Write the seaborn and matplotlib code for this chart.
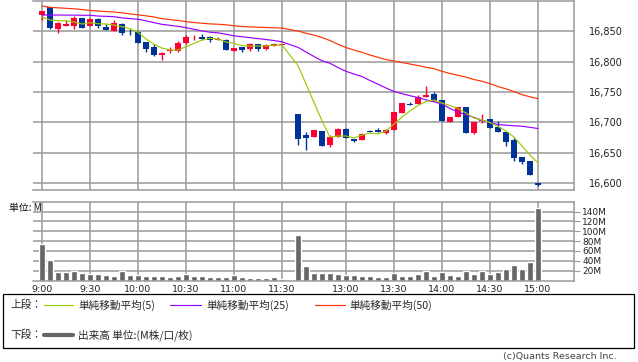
import matplotlib
matplotlib.use("Agg")
import matplotlib.pyplot as plt
import numpy as np
import pandas as pd
import seaborn as sns
from matplotlib.lines import Line2D
from matplotlib.patches import Rectangle

# ---------------- data ----------------
times = ["9:00", "9:05", "9:10", "9:15", "9:20", "9:25", "9:30", "9:35", "9:40", "9:45",
         "9:50", "9:55", "10:00", "10:05", "10:10", "10:15", "10:20", "10:25", "10:30", "10:35",
         "10:40", "10:45", "10:50", "10:55", "11:00", "11:05", "11:10", "11:15", "11:20", "11:25",
         "11:30",
         "12:30", "12:35", "12:40", "12:45", "12:50", "12:55", "13:00", "13:05", "13:10", "13:15",
         "13:20", "13:25", "13:30", "13:35", "13:40", "13:45", "13:50", "13:55", "14:00", "14:05",
         "14:10", "14:15", "14:20", "14:25", "14:30", "14:35", "14:40", "14:45", "14:50", "14:55",
         "15:00"]

opens = [16877, 16890, 16854, 16859, 16859, 16872, 16859, 16870, 16857, 16851,
         16862, 16851, 16849, 16832, 16824, 16811, 16818, 16818, 16831, 16840,
         16841, 16841, 16836, 16836, 16818, 16824, 16821, 16829, 16821, 16826,
         16828,
         16714, 16679, 16676, 16686, 16663, 16676, 16689, 16673, 16671, 16686,
         16687, 16682, 16687, 16715, 16731, 16730, 16742, 16747, 16737, 16700,
         16709, 16725, 16682, 16703, 16706, 16692, 16684, 16671, 16643, 16636,
         16600]
highs = [16884, 16890, 16865, 16869, 16875, 16872, 16872, 16872, 16862, 16869,
         16864, 16854, 16850, 16832, 16829, 16816, 16824, 16834, 16844, 16844,
         16846, 16842, 16840, 16837, 16823, 16824, 16831, 16829, 16829, 16831,
         16828,
         16714, 16684, 16687, 16686, 16679, 16691, 16690, 16673, 16682, 16687,
         16690, 16689, 16717, 16732, 16734, 16745, 16760, 16750, 16737, 16709,
         16725, 16725, 16701, 16714, 16706, 16702, 16684, 16674, 16643, 16636,
         16600]
lows = [16868, 16854, 16848, 16859, 16854, 16856, 16859, 16855, 16853, 16851,
        16844, 16844, 16830, 16816, 16809, 16803, 16814, 16816, 16829, 16836,
        16836, 16832, 16835, 16819, 16817, 16816, 16818, 16818, 16819, 16826,
        16828,
        16663, 16654, 16676, 16661, 16659, 16676, 16674, 16668, 16671, 16684,
        16684, 16681, 16687, 16715, 16729, 16730, 16742, 16735, 16702, 16700,
        16709, 16683, 16681, 16699, 16691, 16684, 16661, 16637, 16632, 16614,
        16595]
closes = [16884, 16856, 16864, 16862, 16872, 16856, 16870, 16858, 16853, 16864,
          16848, 16850, 16831, 16821, 16811, 16814, 16820, 16831, 16841, 16841,
          16837, 16836, 16838, 16820, 16823, 16819, 16829, 16821, 16828, 16829,
          16828,
          16673, 16674, 16687, 16661, 16676, 16689, 16674, 16669, 16681, 16684,
          16684, 16687, 16717, 16732, 16729, 16742, 16745, 16735, 16702, 16709,
          16725, 16683, 16701, 16704, 16691, 16684, 16668, 16642, 16635, 16614,
          16596]

ma5 = [16873.6, 16868.6, 16867.5, 16867.5, 16865.3, 16862.0, 16864.2, 16862.5, 16862.0, 16860.4,
       16857.6, 16854.3, 16848.4, 16837.3, 16828.6, 16822.5, 16819.2, 16819.2, 16824.6, 16830.2,
       16835.7, 16838.5, 16837.3, 16832.4, 16829.9, 16826.6, 16825.8, 16825.8, 16825.8, 16827.4,
       16827.4,
       16793.5, 16763.2, 16732.8, 16702.5, 16675.8, 16677.5, 16677.5, 16674.2, 16679.1, 16682.4,
       16680.8, 16685.7, 16697.3, 16708.8, 16718.7, 16727.7, 16734.3, 16736.8, 16731.8, 16727.7,
       16722.8, 16715.4, 16707.1, 16703.8, 16699.7, 16693.1, 16685.7, 16675.8, 16661.0, 16646.1,
       16633.0]
ma25 = [16876.9, 16876.9, 16876.9, 16876.7, 16876.7, 16876.5, 16876.4, 16875.2, 16874.7, 16874.1,
        16872.2, 16870.9, 16869.9, 16867.3, 16864.3, 16861.5, 16859.9, 16858.2, 16856.1, 16853.3,
        16850.7, 16848.5, 16847.5, 16845.1, 16842.6, 16841.1, 16839.5, 16838.0, 16836.5, 16834.8,
        16832.7,
        16823.6, 16815.9, 16808.5, 16801.5, 16797.3, 16790.3, 16784.1, 16779.6, 16775.5, 16768.9,
        16762.8, 16756.6, 16750.8, 16747.3, 16743.9, 16740.9, 16737.1, 16733.8, 16730.2, 16722.8,
        16717.0, 16712.6, 16708.0, 16703.3, 16699.7, 16696.4, 16695.3, 16694.4, 16693.6, 16691.8,
        16689.8]
ma50 = [16891.7, 16889.6, 16888.7, 16887.9, 16887.1, 16885.9, 16884.4, 16883.5, 16882.6, 16881.8,
        16880.5, 16878.7, 16877.2, 16875.5, 16873.7, 16870.9, 16869.4, 16867.8, 16866.0, 16864.5,
        16863.3, 16862.2, 16861.7, 16860.7, 16859.2, 16858.1, 16857.3, 16856.8, 16856.3, 16855.8,
        16855.4,
        16850.5, 16846.9, 16843.6, 16839.8, 16834.8, 16828.6, 16823.3, 16819.2, 16815.4, 16810.9,
        16807.2, 16803.5, 16801.1, 16798.6, 16796.1, 16793.6, 16790.7, 16788.5, 16784.1, 16780.5,
        16777.5, 16774.4, 16770.6, 16767.6, 16763.8, 16759.0, 16755.2, 16750.8, 16745.5, 16742.1,
        16739.0]

volume_m = [73.6, 41.8, 17.9, 17.9, 19.9, 15.9, 13.9, 13.9, 11.9, 10.0,
            19.9, 11.9, 11.9, 10.0, 10.0, 10.0, 8.0, 10.0, 13.9, 10.0,
            10.0, 8.0, 8.0, 8.0, 11.9, 8.0, 6.0, 6.0, 6.0, 8.0,
            4.0,
            91.5, 29.9, 15.9, 15.9, 15.9, 13.9, 11.9, 11.9, 10.0, 10.0,
            8.0, 8.0, 15.9, 10.0, 10.0, 13.9, 19.9, 10.0, 17.9, 11.9,
            10.0, 19.9, 13.9, 19.9, 13.9, 17.9, 23.9, 31.8, 23.9, 37.8,
            147.0]

x_tick_labels = ["9:00", "9:30", "10:00", "10:30", "11:00", "11:30",
                 "13:00", "13:30", "14:00", "14:30", "15:00"]
price_ticks = [16600, 16650, 16700, 16750, 16800, 16850]
volume_ticks = [20, 40, 60, 80, 100, 120, 140]

legend_labels = ["単純移動平均(5)", "単純移動平均(25)", "単純移動平均(50)"]

# ---------------- layout helpers ----------------
def slot_of(t):
    h, m = map(int, t.split(":"))
    mins = h * 60 + m
    if mins <= 11 * 60 + 30:
        return (mins - 540) // 5
    return (mins - 750) // 5 + 32   # one empty slot for the lunch break

df = pd.DataFrame({
    "slot": [slot_of(t) for t in times],
    "open": opens, "high": highs, "low": lows, "close": closes,
    "ma5": ma5, "ma25": ma25, "ma50": ma50, "volume": volume_m,
})

UP, DOWN = "#ff0033", "#003399"
GRID = "#999999"
C5, C25, C50 = "#99cc00", "#9900ff", "#ff3300"

sns.set_style("white")
plt.rcParams["font.family"] = ["DejaVu Sans", "Noto Sans CJK JP"]

W, H = 638, 362
fig = plt.figure(figsize=(W / 100, H / 100), dpi=100)

def fx(px):
    return px / W

def fy(py):
    return 1 - py / H

left_px, right_px = 33, 574
ax = fig.add_axes([fx(left_px), fy(190), fx(right_px - left_px), (190 - 0.5) / H])
axv = fig.add_axes([fx(left_px), fy(280.5), fx(right_px - left_px), (280.5 - 201.7) / H])

xlim = (-1.125, 66.5)
tick_slots = [slot_of(t) for t in x_tick_labels]

# ---------------- price panel ----------------
up = df["close"] >= df["open"]
colors = np.where(up, UP, DOWN)
bottoms = np.minimum(df["open"], df["close"])
heights = np.maximum(np.abs(df["close"] - df["open"]), 1.3)
ax.vlines(df["slot"], df["low"], df["high"], colors=colors, lw=1.0, zorder=2)
ax.bar(df["slot"], heights, bottom=bottoms, width=0.75, color=colors, lw=0, zorder=2.5)

for col, c in [("ma50", C50), ("ma25", C25), ("ma5", C5)]:
    sns.lineplot(data=df, x="slot", y=col, color=c, lw=0.85, ax=ax, zorder=3,
                 legend=False, errorbar=None)

ax.set_xlim(*xlim)
ax.set_ylim(16588.5, 16900.8)
ax.set_xticks(tick_slots)
ax.set_xticklabels([])
ax.set_yticks(price_ticks)
ax.set_yticklabels([f"{v:,}" for v in price_ticks])
ax.yaxis.tick_right()
ax.tick_params(axis="y", length=0, pad=11, labelsize=7.0, colors="#222222")
ax.tick_params(axis="x", length=0)
ax.grid(True, color=GRID, lw=1.1)
ax.set_axisbelow(True)
ax.set_xlabel("")
ax.set_ylabel("")
for s in ["top", "bottom", "right"]:
    ax.spines[s].set_color(GRID)
    ax.spines[s].set_linewidth(1.1)
ax.spines["left"].set_visible(False)

# ---------------- volume panel ----------------
sns.barplot(data=df, x="slot", y="volume", native_scale=True, color="#666666",
            saturation=1, width=0.75, errorbar=None, ax=axv, zorder=2)
axv.set_xlim(*xlim)
axv.set_ylim(0, 160)
axv.set_xticks(tick_slots)
axv.set_xticklabels(x_tick_labels)
axv.set_yticks(volume_ticks)
axv.set_yticklabels([f"{v}M" for v in volume_ticks])
axv.yaxis.tick_right()
axv.tick_params(axis="y", length=4, width=0.8, color=GRID, pad=2, labelsize=6.5,
                colors="#222222")
axv.tick_params(axis="y", color=GRID)
axv.tick_params(axis="x", length=0, pad=3, labelsize=6.8, labelcolor="#222222")
axv.grid(True, color=GRID, lw=1.1)
axv.set_axisbelow(True)
axv.set_xlabel("")
axv.set_ylabel("")
for s in ["top", "bottom", "right"]:
    axv.spines[s].set_color(GRID)
    axv.spines[s].set_linewidth(1.1)
axv.spines["left"].set_visible(False)

fig.text(fx(9), fy(207.5), "単位: M", fontsize=7.1, va="center", ha="left",
         family=["Noto Sans CJK JP", "DejaVu Sans"], color="#111111")

# ---------------- legend box ----------------
fig.patches.append(Rectangle((fx(3), fy(348)), fx(631), 54 / H, transform=fig.transFigure,
                             fill=False, edgecolor="black", lw=0.9))
jp = ["Noto Sans CJK JP", "DejaVu Sans"]
r1, r2 = fy(305), fy(335)
fig.text(fx(10), r1, "上段：", fontsize=7.7, va="center", family=jp)
for (x0, x1, tx), c, lab in zip([(44, 73, 78), (170, 201, 206), (315, 345, 349)],
                                [C5, C25, C50], legend_labels):
    fig.lines.append(Line2D([fx(x0), fx(x1)], [r1, r1], transform=fig.transFigure,
                            color=c, lw=0.85))
    fig.text(fx(tx), r1, lab, fontsize=7.7, va="center", family=jp)
fig.text(fx(10), r2, "下段：", fontsize=7.7, va="center", family=jp)
fig.lines.append(Line2D([fx(44), fx(73)], [r2, r2], transform=fig.transFigure,
                        color="#666666", lw=3.0))
fig.text(fx(78), r2, "出来高 単位:(M株/口/枚)", fontsize=7.7, va="center", family=jp)

fig.text(fx(617), fy(356), "(c)Quants Research Inc.", fontsize=6.8, ha="right",
         va="center", color="#444444")

fig.savefig("out.png", dpi=100)
